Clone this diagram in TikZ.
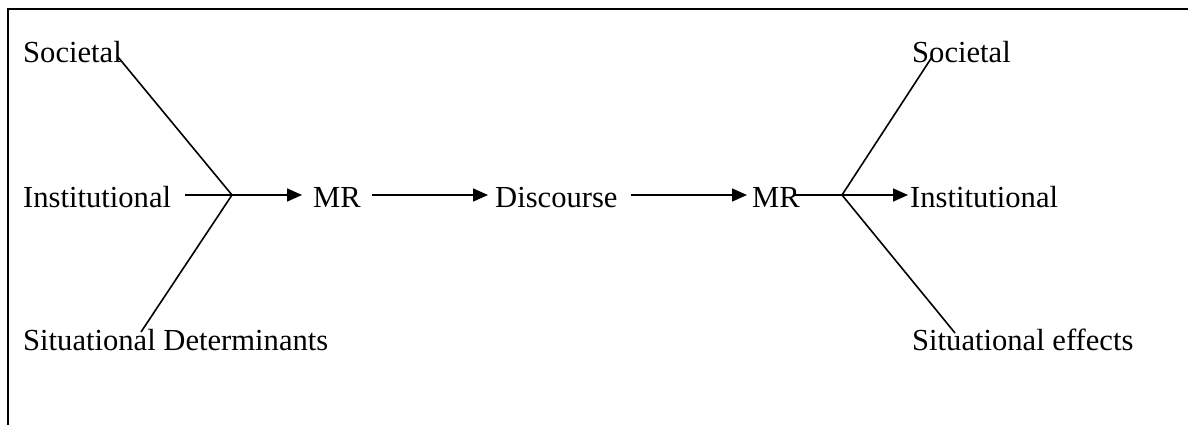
\documentclass[tikz,border=0pt]{standalone}
\usepackage{fontspec}
\setmainfont{Liberation Serif}
\usetikzlibrary{arrows.meta,calc}
\begin{document}
\begin{tikzpicture}[x=1pt,y=-1pt,
  lbl/.style={anchor=base west,inner sep=0pt,font=\fontsize{30.6}{36}\selectfont},
  link/.style={line width=1.6pt},
  arr/.style={line width=1.6pt,-{Triangle[length=15pt,width=13pt]}},
  frame/.style={line width=2pt}]
\useasboundingbox (0,0) rectangle (1188,425);
% open frame: top and left edges only
\draw[frame] (8,425) -- (8,9) -- (1188,9);

% left-hand determinants
\node[lbl] (socL) at (23,63) {Societal};
\node[lbl] (insL) at (23,207) {Institutional};
\node[lbl] (sitL) at (23,350) {Situational Determinants};
% middle chain
\node[lbl] (mrA) at (313,207) {MR};
\node[lbl] (disc) at (495,207) {Discourse};
\node[lbl] (mrB) at (752,207) {MR};
% right-hand effects
\node[lbl] (socR) at (912,63) {Societal};
\node[lbl] (insR) at (910,207) {Institutional};
\node[lbl] (sitR) at (912,350) {Situational effects};

% junction points and line ends
\coordinate (jL) at (232,195);
\coordinate (jR) at (842,195);
\coordinate (tL) at (118,57);
\coordinate (bL) at (141,332);
\coordinate (tR) at (932,57);
\coordinate (bR) at (955,333);

% converging lines on the left
\draw[link] (tL) -- (jL) -- (bL);
\draw[link] ($(insL.east |- jL)+(14,0)$) -- (jL);
\draw[arr] (jL) -- ($(mrA.west |- jL)+(-11,0)$);
\draw[arr] ($(mrA.east |- jL)+(11,0)$) -- ($(disc.west |- jL)+(-7,0)$);
\draw[arr] ($(disc.east |- jL)+(13,0)$) -- ($(mrB.west |- jL)+(-5,0)$);
% diverging lines on the right
\draw[link] ($(mrB.east |- jR)+(-5,0)$) -- (jR);
\draw[link] (tR) -- (jR) -- (bR);
\draw[arr] (jR) -- ($(insR.west |- jR)+(-2,0)$);
\end{tikzpicture}
\end{document}
